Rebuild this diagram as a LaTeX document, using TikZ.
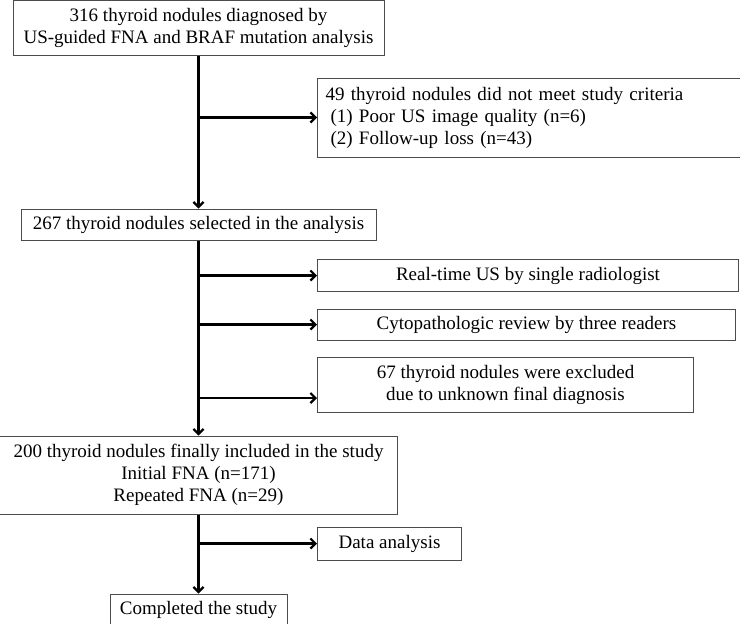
\documentclass[tikz,border=0pt]{standalone}
\usepackage{fontspec}
\setmainfont{Liberation Serif}
\usetikzlibrary{positioning,arrows.meta}

\begin{document}
\begin{tikzpicture}[x=1pt, y=1pt, node distance=118.5pt, line width=2.2pt,
>={Straight Barb[length=5pt,width=10pt]},
main node/.style={rectangle,draw=black!70,line width=1pt,inner sep=0pt,align=center,font=\fontsize{19}{22}\selectfont}]

\useasboundingbox (0,0) rectangle (740,-624);

% trunk
\node[main node] [minimum width=371pt, minimum height=55pt] (A) at (198.5,-27.5) {316 thyroid nodules diagnosed by\\US-guided FNA and BRAF mutation analysis};
\node[main node] [minimum width=355pt, minimum height=31pt] (C) [below=153pt of A] {267 thyroid nodules selected in the analysis};
\node[main node] [minimum width=398pt, minimum height=78pt] (G) [below=195pt of C] {200 thyroid nodules finally included in the study\\Initial FNA (n=171)\\Repeated FNA (n=29)};
\node[main node] [minimum width=177pt, minimum height=32pt] (I) [below=79pt of G] {Completed the study};

% branch points
\coordinate (b) at (198.5,-117.5);
\coordinate (d) at (198.5,-275.5);
\coordinate (e) at (198.5,-324.5);
\coordinate (f) at (198.5,-398);
\coordinate (h) at (198.5,-543.5);

% side boxes
\node[main node] [text width=407pt, inner xsep=8pt, minimum height=79pt, align=left] (B) [right=of b] {49 thyroid nodules did not meet study criteria\\
\hspace*{5pt}(1) Poor US image quality (n=6)\\
\hspace*{5pt}(2) Follow-up loss (n=43)};
\node[main node] [minimum width=421pt, minimum height=32pt] (D) [right=of d] {Real-time US by single radiologist};
\node[main node] [minimum width=418pt, minimum height=31pt] (E) [right=of e] {Cytopathologic review by three readers};
\node[main node] [minimum width=376pt, minimum height=55pt] (F) [right=of f, yshift=13.5pt] {67 thyroid nodules were excluded\\due to unknown final diagnosis};
\node[main node] [minimum width=144pt, minimum height=33pt] (H) [right=of h] {Data analysis};

\draw[->] (A) -- (C);
\draw[->] (C) -- (G);
\draw[->] (G) -- (I);
\foreach \p/\q in {b/B,d/D,e/E,f/F,h/H}
\draw[->] (\p) -- (\p -| \q.west);
\end{tikzpicture}
\end{document}
